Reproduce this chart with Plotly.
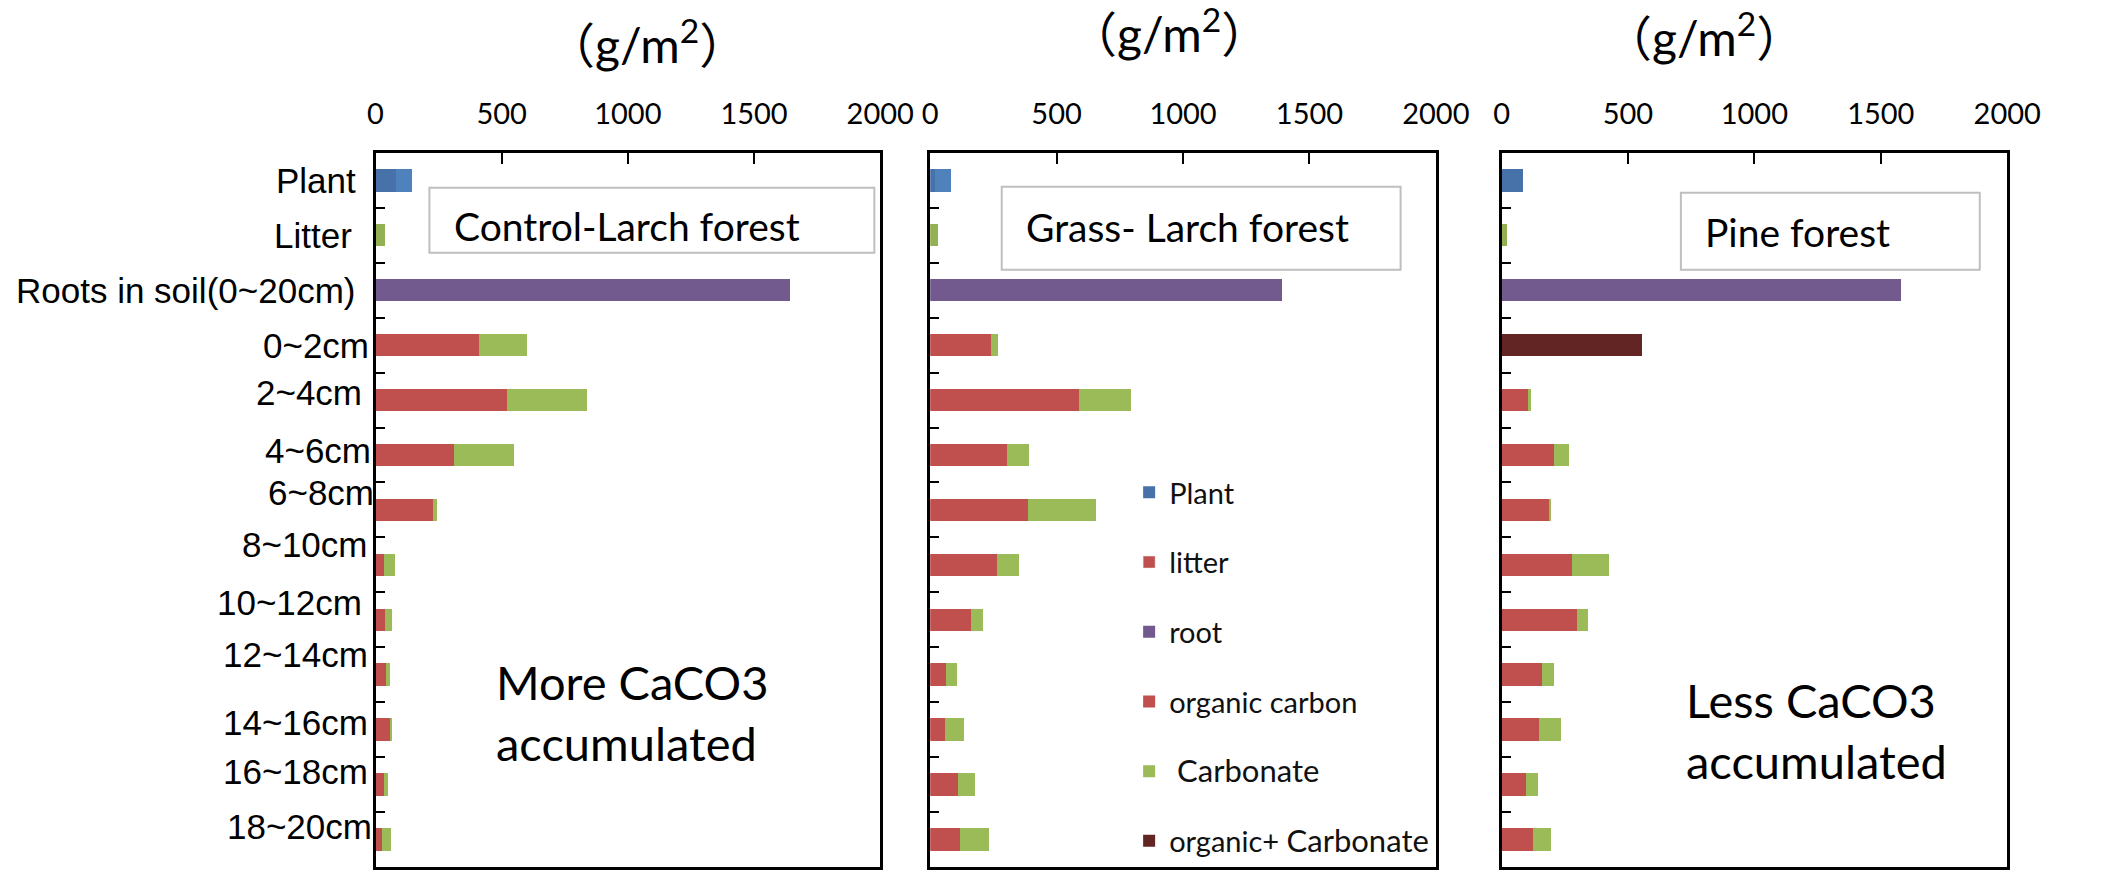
import plotly.graph_objects as go

W, H = 2101, 870

# ---- data (g/m2) ----
categories = ["Plant", "Litter", "Roots in soil(0~20cm)", "0~2cm", "2~4cm", "4~6cm",
              "6~8cm", "8~10cm", "10~12cm", "12~14cm", "14~16cm", "16~18cm", "18~20cm"]
depths = categories[3:]
x_ticks = [0, 500, 1000, 1500, 2000]

panel_names = ["Control-Larch forest", "Grass- Larch forest", "Pine forest"]

plant_base = [80, 19, 84]
plant_top = [64, 64, 0]
litter = [39, 32, 22]
root = [1644, 1390, 1581]

organic_carbon_control = [410, 521, 312, 228, 32, 36, 43, 58, 32, 27]
carbonate_control = [191, 317, 235, 14, 47, 30, 15, 9, 16, 34]

organic_carbon_grass = [240, 589, 304, 387, 264, 163, 62, 58, 110, 116]
carbonate_grass = [28, 207, 86, 268, 89, 45, 45, 75, 66, 118]

organic_carbon_pine = [None, 104, 209, 186, 278, 299, 162, 149, 98, 123]
carbonate_pine = [None, 13, 57, 10, 148, 41, 47, 86, 46, 72]
organic_plus_carbonate_pine = [557, None, None, None, None, None, None, None, None, None]

organic_carbon = [organic_carbon_control, organic_carbon_grass, organic_carbon_pine]
carbonate = [carbonate_control, carbonate_grass, carbonate_pine]

# ---- styles ----
C_PLANT = "#4672A9"
C_PLANT_TOP = "#4F81BD"
C_LITTER = "#93B152"
C_ROOT = "#725A8E"
C_ORG = "#C0504D"
C_CARB = "#9BBB59"
C_BOTH = "#632523"

LABEL_FONT = "Liberation Sans, Arial, sans-serif"
TEXT_FONT = "Lato, 'Noto Sans CJK SC', sans-serif"


def px_x(p):
    return p / W


def px_y(p):
    return 1 - p / H


panel_px = [(375, 890), (941, 1457), (1524, 2040)]
plot_top, plot_bottom = 153, 868

fig = go.Figure()

for i in range(3):
    ax = "" if i == 0 else str(i + 1)
    xr, yr = "x" + ax, "y" + ax

    fig.add_trace(go.Bar(y=["Plant"], x=[plant_base[i]], orientation="h",
                         marker=dict(color=C_PLANT, line_width=0), name="Plant",
                         legendgroup="plant", legendrank=1, showlegend=(i == 2),
                         xaxis=xr, yaxis=yr))
    if plant_top[i]:
        fig.add_trace(go.Bar(y=["Plant"], x=[plant_top[i]], orientation="h",
                             marker=dict(color=C_PLANT_TOP, line_width=0), showlegend=False,
                             legendgroup="plant", xaxis=xr, yaxis=yr))
    fig.add_trace(go.Bar(y=["Litter"], x=[litter[i]], orientation="h",
                         marker=dict(color=C_LITTER, line_width=0), showlegend=False,
                         legendgroup="litter", xaxis=xr, yaxis=yr))
    fig.add_trace(go.Bar(y=["Roots in soil(0~20cm)"], x=[root[i]], orientation="h",
                         marker=dict(color=C_ROOT, line_width=0), name="root",
                         legendgroup="root", legendrank=3, showlegend=(i == 0),
                         xaxis=xr, yaxis=yr))
    fig.add_trace(go.Bar(y=depths, x=organic_carbon[i], orientation="h",
                         marker=dict(color=C_ORG, line_width=0), name="organic carbon",
                         legendgroup="org", legendrank=4, showlegend=(i == 0),
                         xaxis=xr, yaxis=yr))
    fig.add_trace(go.Bar(y=depths, x=carbonate[i], orientation="h",
                         marker=dict(color=C_CARB, line_width=0),
                         name="<span style='font-size:31px'>\u00a0Carbonate</span>",
                         legendgroup="carb", legendrank=5, showlegend=(i == 0),
                         xaxis=xr, yaxis=yr))
    if i == 2:
        fig.add_trace(go.Bar(y=depths, x=organic_plus_carbonate_pine, orientation="h",
                             marker=dict(color=C_BOTH, line_width=0),
                             name="organic+ <span style='font-size:31px'>Carbonate</span>",
                             legendgroup="both", legendrank=6, showlegend=True,
                             xaxis=xr, yaxis=yr))

# legend entry for the litter series
fig.add_trace(go.Bar(y=[None], x=[None], orientation="h", marker=dict(color=C_ORG),
                     name="litter", legendgroup="litter", legendrank=2, showlegend=True,
                     xaxis="x2", yaxis="y2"))

layout = dict(
    width=W, height=H, autosize=False, margin=dict(l=0, r=0, t=0, b=0),
    paper_bgcolor="white", plot_bgcolor="white",
    barmode="stack", bargap=0.59,
    showlegend=True,
    legend=dict(x=px_x(1144), y=px_y(868), xanchor="left", yanchor="bottom",
                font=dict(family=TEXT_FONT, size=29, color="#111"),
                tracegroupgap=29, traceorder="grouped", bgcolor="rgba(0,0,0,0)"),
)

for i, (x0, x1) in enumerate(panel_px):
    ax = "" if i == 0 else str(i + 1)
    layout["xaxis" + ax] = dict(
        domain=[px_x(x0), px_x(x1)], range=[0, 2000], side="top", anchor="y" + ax,
        tickvals=x_ticks, ticks="inside", ticklen=11, tickwidth=2, tickcolor="black",
        showline=True, linewidth=3, linecolor="black", mirror=True,
        showgrid=False, zeroline=False,
        tickfont=dict(family=TEXT_FONT, size=29, color="black"),
        ticklabelstandoff=14, fixedrange=True,
    )
    layout["yaxis" + ax] = dict(
        domain=[px_y(plot_bottom), px_y(plot_top)], anchor="x" + ax,
        type="category", categoryorder="array", categoryarray=categories,
        range=[len(categories) - 0.5, -0.5], tickson="boundaries",
        ticks="inside", ticklen=9, tickwidth=2, tickcolor="black",
        showline=True, linewidth=3, linecolor="black", mirror=True,
        showgrid=False, zeroline=False, showticklabels=False, fixedrange=True,
    )

fig.update_layout(**layout)

annotations = []
shapes = []

# category labels on the left panel (right edge in px, vertical nudge in px)
label_nudges = [(357, 0), (353, 0), (356, 0), (370, 0), (363, -8), (372, -4), (375, -17),
                (369, -20), (363, -17), (369, -20), (369, -7), (369, -13), (373, -13)]
for cat, (xr_px, dy) in zip(categories, label_nudges):
    annotations.append(dict(text=cat, xref="paper", yref="y", x=px_x(xr_px), y=cat,
                            xanchor="right", yanchor="middle", yshift=-dy,
                            showarrow=False,
                            font=dict(family=LABEL_FONT, size=35, color="black")))

# unit titles above each panel
unit_pos = [(652, 42), (1185, 31), (1731, 35)]
for (cx, cy) in unit_pos:
    annotations.append(dict(text="（g/m<sup>2</sup>）", xref="paper", yref="paper",
                            x=px_x(cx), y=px_y(cy), xanchor="center", yanchor="middle",
                            showarrow=False,
                            font=dict(family=TEXT_FONT, size=48, color="black")))

# panel name boxes
name_boxes = [((430, 188, 884, 253), 453, 226),
              ((1014, 187, 1421, 270), 1037, 227),
              ((1707, 193, 2012, 270), 1730, 232)]
for name, ((bx0, by0, bx1, by1), tx, ty) in zip(panel_names, name_boxes):
    shapes.append(dict(type="rect", xref="paper", yref="paper",
                       x0=px_x(bx0), x1=px_x(bx1), y0=px_y(by1), y1=px_y(by0),
                       line=dict(color="#BFBFBF", width=2), fillcolor="white", layer="above"))
    annotations.append(dict(text=name, xref="paper", yref="paper", x=px_x(tx), y=px_y(ty),
                            xanchor="left", yanchor="middle", showarrow=False,
                            font=dict(family=TEXT_FONT, size=39, color="black")))

# CaCO3 notes
notes = [("More CaCO3<br>accumulated", 496, 713), ("Less CaCO3<br>accumulated", 1710, 731)]
for text, nx, ny in notes:
    annotations.append(dict(text=text, xref="paper", yref="paper", x=px_x(nx), y=px_y(ny),
                            xanchor="left", yanchor="middle", align="left", showarrow=False,
                            font=dict(family=TEXT_FONT, size=47, color="black")))

fig.update_layout(annotations=annotations, shapes=shapes)

fig.write_html("out.html",
               post_script="document.body.style.margin='0';"
                           "document.documentElement.style.overflow='hidden';")
